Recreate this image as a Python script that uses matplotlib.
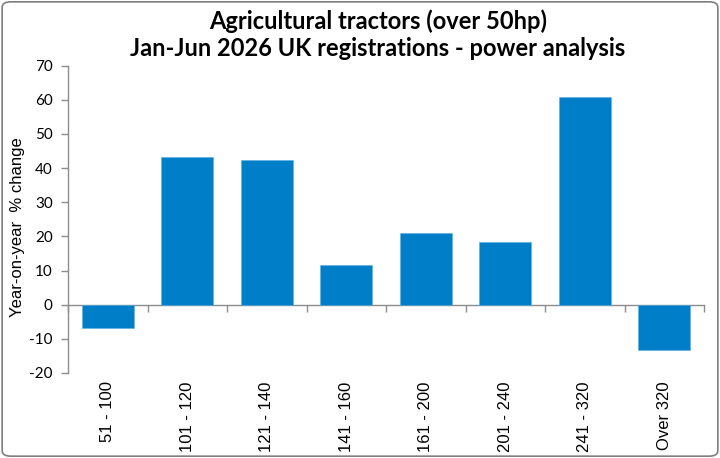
import numpy as np
import matplotlib.pyplot as plt
from matplotlib.patches import FancyBboxPatch

categories = ['51 - 100', '101 - 120', '121 - 140', '141 - 160',
              '161 - 200', '201 - 240', '241 - 320', 'Over 320']
yoy_change = [-6.8, 43.4, 42.5, 11.6, 21.1, 18.4, 60.8, -13.2]
y_ticks = [-20, -10, 0, 10, 20, 30, 40, 50, 60, 70]

bar_color = '#007FC8'
axis_color = '#8C8C8C'

fig = plt.figure(figsize=(7.2, 4.58), dpi=100)
ax = fig.add_axes([68 / 720, 1 - 373 / 458, 636 / 720, (373 - 65.7) / 458])

x = np.arange(len(categories))
ax.bar(x, yoy_change, width=0.66, color=bar_color, edgecolor='#5AAEE0', linewidth=0.4, zorder=2)

ax.set_xlim(-0.5, len(categories) - 0.5)
ax.set_ylim(y_ticks[0], y_ticks[-1])
ax.set_yticks(y_ticks)
ax.set_yticklabels([str(v) for v in y_ticks], fontfamily='Lato', fontsize=11)
ax.tick_params(axis='y', direction='out', length=5, width=1, color=axis_color, pad=6)

ax.set_xticks(x)
ax.set_xticklabels(categories, rotation=90, fontfamily='Liberation Sans', fontsize=12)
ax.tick_params(axis='x', length=0, pad=6)

for s in ['top', 'right', 'bottom']:
    ax.spines[s].set_visible(False)
ax.spines['left'].set_color(axis_color)
ax.spines['left'].set_linewidth(1)

# category axis drawn along zero line, ticks between categories
zero_pos = (0 - y_ticks[0]) / (y_ticks[-1] - y_ticks[0])
sec = ax.secondary_xaxis(zero_pos)
sec.set_xticks(np.arange(-0.5, len(categories), 1.0))
sec.set_xticklabels([])
sec.tick_params(direction='out', length=5, width=1, color=axis_color)
sec.spines['bottom'].set_color(axis_color)
sec.spines['bottom'].set_linewidth(1)

fig.text(18 / 720, 1 - 227 / 458, 'Year-on-year  % change', rotation=90, ha='center', va='center',
         fontfamily='Liberation Sans', fontsize=12)

fig.text(0.525, 0.979, 'Agricultural tractors (over 50hp)\nJan-Jun 2026 UK registrations - power analysis',
         ha='center', va='top', fontfamily='Lato', fontweight='bold', fontsize=17, linespacing=1.2)

border = FancyBboxPatch((0.003, 0.004), 0.994, 0.992, boxstyle='round,pad=0,rounding_size=0.012',
                        transform=fig.transFigure, fill=False, edgecolor='#7F7F7F', linewidth=1.2)
fig.patches.append(border)

fig.savefig('out.png', dpi=100)
